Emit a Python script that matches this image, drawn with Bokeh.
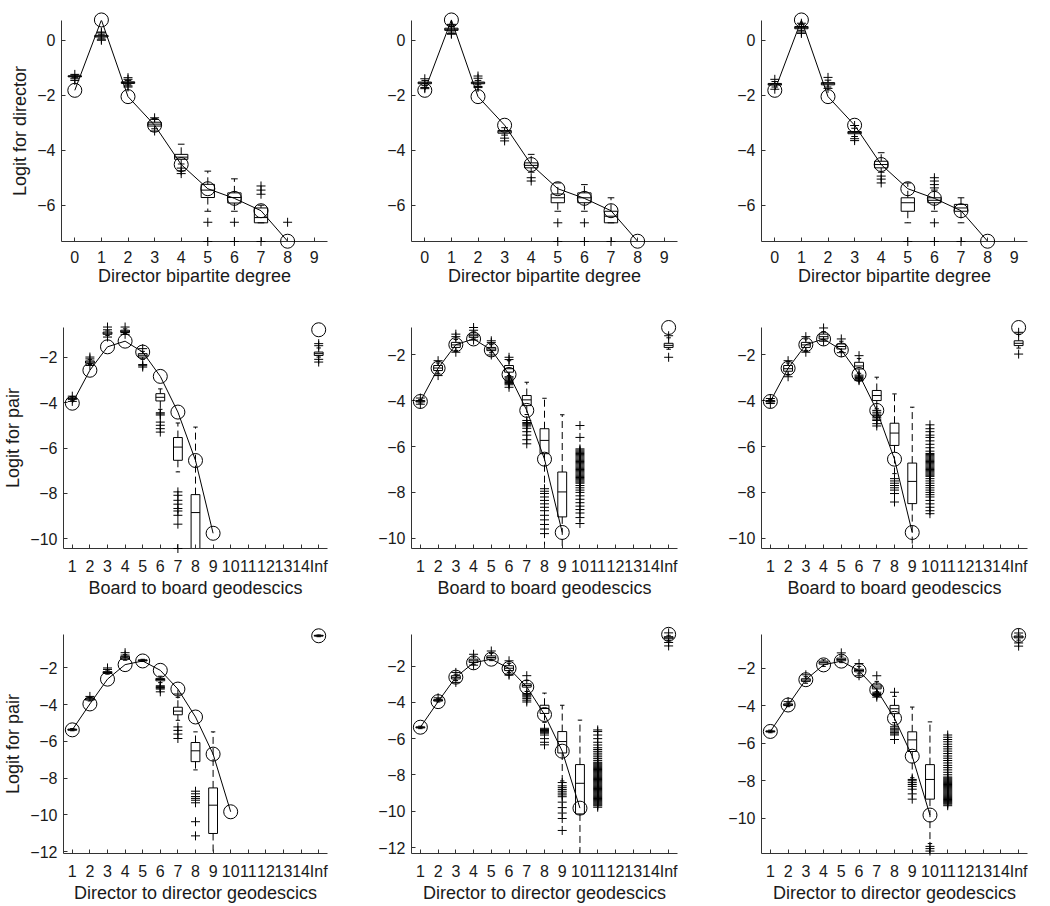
from bokeh.plotting import figure
from bokeh.layouts import row, column
from bokeh.models import FixedTicker, Range1d
from bokeh.embed import file_html
from bokeh.resources import INLINE

FONT = "Liberation Sans"

# ---------------- tick labels ----------------
deg_ticks = [0, 1, 2, 3, 4, 5, 6, 7, 8, 9]
deg_labels = ["0", "1", "2", "3", "4", "5", "6", "7", "8", "9"]
geo_ticks = [1, 2, 3, 4, 5, 6, 7, 8, 9, 10, 11, 12, 13, 14, 15]
geo_labels = ["1", "2", "3", "4", "5", "6", "7", "8", "9", "10", "11", "12", "13", "14", "Inf"]

# ---------------- observed values (circles) ----------------
deg_x = [0, 1, 2, 3, 4, 5, 6, 7, 8]
deg_y = [-1.82, 0.74, -2.05, -3.09, -4.52, -5.40, -5.75, -6.20, -7.31]
board_x = [1, 2, 3, 4, 5, 6, 7, 8, 9]
board_y = [-4.03, -2.58, -1.55, -1.30, -1.78, -2.85, -4.42, -6.55, -9.75]
board_inf = -0.80
dir_x = [1, 2, 3, 4, 5, 6, 7, 8, 9, 10]
dir_y = [-5.37, -3.96, -2.61, -1.82, -1.62, -2.13, -3.15, -4.67, -6.69, -9.83]
dir_inf = -0.25
inf_pos = 15

# ---------------- row 1, col 1 ----------------
r1c1_pos = [0, 1, 2, 3, 4, 5, 6, 7]
r1c1_q1 = [-1.33, 0.12, -1.57, -3.12, -4.33, -5.72, -5.92, -6.64]
r1c1_med = [-1.31, 0.15, -1.54, -3.05, -4.25, -5.45, -5.72, -6.45]
r1c1_q3 = [-1.29, 0.18, -1.51, -2.98, -4.15, -5.24, -5.55, -6.10]
r1c1_lo = [-1.36, 0.08, -1.62, -3.22, -4.50, -6.22, -6.22, -6.64]
r1c1_hi = [-1.26, 0.22, -1.46, -2.88, -3.78, -4.76, -5.04, -6.00]
r1c1_out = {0: [-1.24, -1.40, -1.46], 1: [0.30, 0.27, 0.04, 0.00],
            2: [-1.36, -1.42, -1.66, -1.70], 3: [-2.82, -3.30],
            4: [-4.65, -4.75, -4.85], 5: [-6.62, -7.32], 6: [-6.62, -7.32],
            7: [-5.30, -5.45, -5.60, -7.32], 8: [-6.62]}

# ---------------- row 1, col 2 ----------------
r1c2_pos = [0, 1, 2, 3, 4, 5, 6, 7]
r1c2_q1 = [-1.58, 0.36, -1.58, -3.38, -4.64, -5.91, -5.91, -6.64]
r1c2_med = [-1.55, 0.40, -1.55, -3.33, -4.55, -5.73, -5.73, -6.40]
r1c2_q3 = [-1.52, 0.44, -1.52, -3.28, -4.46, -5.59, -5.55, -6.22]
r1c2_lo = [-1.65, 0.30, -1.62, -3.45, -4.80, -6.22, -6.22, -6.64]
r1c2_hi = [-1.46, 0.50, -1.46, -3.18, -4.15, -5.19, -5.25, -5.73]
r1c2_out = {0: [-1.40, -1.72, -1.76], 1: [0.58, 0.55, 0.25, 0.22],
            2: [-1.30, -1.38, -1.68, -1.72], 3: [-3.56, -3.66],
            4: [-5.00, -5.12], 5: [-6.64, -7.32], 6: [-6.64, -7.32], 7: [-7.32]}

# ---------------- row 1, col 3 ----------------
r1c3_pos = [0, 1, 2, 3, 4, 5, 6, 7]
r1c3_q1 = [-1.63, 0.42, -1.62, -3.40, -4.64, -6.22, -5.91, -6.22]
r1c3_med = [-1.60, 0.46, -1.58, -3.36, -4.52, -5.91, -5.82, -6.10]
r1c3_q3 = [-1.57, 0.50, -1.54, -3.32, -4.40, -5.73, -5.73, -5.97]
r1c3_lo = [-1.70, 0.35, -1.70, -3.50, -4.80, -6.64, -6.22, -6.64]
r1c3_hi = [-1.50, 0.58, -1.45, -3.20, -4.09, -5.19, -5.45, -5.73]
r1c3_out = {0: [-1.42, -1.78], 1: [0.25, 0.30, 0.62], 2: [-1.35, -1.75],
            3: [-3.10, -3.58, -3.65], 4: [-4.94, -5.05, -5.19], 5: [-7.32],
            6: [-5.00, -5.12, -5.25, -5.37, -6.64, -7.32], 7: [-7.32]}

# ---------------- row 2, col 1 ----------------
r2c1_pos = [1, 2, 3, 4, 5, 6, 7, 8, 15]
r2c1_q1 = [-3.86, -2.27, -1.00, -0.92, -2.00, -3.93, -6.54, -10.60, -1.93]
r2c1_med = [-3.83, -2.22, -0.95, -0.87, -1.92, -3.77, -5.96, -8.84, -1.85]
r2c1_q3 = [-3.80, -2.17, -0.90, -0.82, -1.85, -3.61, -5.54, -8.05, -1.78]
r2c1_lo = [-3.90, -2.33, -1.05, -0.97, -2.10, -4.30, -7.05, -10.60, -2.00]
r2c1_hi = [-3.76, -2.10, -0.85, -0.76, -1.75, -3.40, -4.90, -5.08, -1.60]
r2c1_out = {1: [-3.72, -3.95], 2: [-2.00, -2.08, -2.37], 3: [-0.68, -0.80, -1.12],
            4: [-0.68, -1.00], 5: [-1.63, -2.33, -2.38, -2.44],
            6: [-4.45, -4.50, -4.55, -4.86, -5.00, -5.15, -5.30],
            7: [-7.93, -8.08, -8.30, -8.47, -8.66, -8.77, -8.96, -9.35, -10.42],
            15: [-1.41, -1.50, -2.10, -2.22]}

# ---------------- row 2, col 2 ----------------
r2c2_pos = [1, 2, 3, 4, 5, 6, 7, 8, 9, 15]
r2c2_q1 = [-4.05, -2.68, -1.67, -1.23, -1.81, -2.75, -4.21, -6.31, -9.07, -1.67]
r2c2_med = [-4.02, -2.57, -1.56, -1.16, -1.74, -2.60, -3.96, -5.73, -7.98, -1.58]
r2c2_q3 = [-3.99, -2.46, -1.45, -1.09, -1.67, -2.46, -3.77, -5.22, -7.11, -1.49]
r2c2_lo = [-4.10, -2.80, -1.80, -1.30, -1.90, -2.90, -4.60, -10.60, -10.60, -1.75]
r2c2_hi = [-3.95, -2.35, -1.32, -1.00, -1.55, -2.25, -3.19, -3.89, -4.61, -1.25]
r2c2_out = {1: [-3.88, -4.15], 2: [-2.25, -2.90], 3: [-1.09, -1.20, -1.88],
            4: [-0.80, -0.92, -1.35], 5: [-1.38, -1.46, -2.00],
            6: [-2.10, -2.20, -2.95, -3.00, -3.05, -3.10, -3.15, -3.20, -3.25, -3.30, -3.41],
            7: [-4.86, -4.95, -5.00, -5.05, -5.10, -5.20, -5.35, -5.50, -5.70, -5.88],
            8: [-7.84, -7.95, -8.05, -8.20, -8.35, -8.50, -8.65, -8.80, -9.00, -9.20,
                -9.40, -9.60, -9.80],
            10: [-5.08, -5.60, -6.10, -6.15, -6.20, -6.25, -6.30, -6.35, -6.40, -6.45,
                 -6.50, -6.55, -6.60, -6.65, -6.70, -6.75, -6.80, -6.85, -6.90, -6.95,
                 -7.00, -7.05, -7.10, -7.15, -7.20, -7.25, -7.30, -7.35, -7.40, -7.45,
                 -7.50, -7.55, -7.60, -7.70, -7.80, -7.90, -8.00, -8.15, -8.30, -8.45,
                 -8.60, -8.75, -8.90, -9.10, -9.36],
            15: [-1.16, -2.10]}

# ---------------- row 2, col 3 ----------------
r2c3_pos = [1, 2, 3, 4, 5, 6, 7, 8, 9, 15]
r2c3_q1 = [-4.05, -2.71, -1.67, -1.30, -1.74, -2.61, -3.99, -5.95, -8.49, -1.59]
r2c3_med = [-4.02, -2.60, -1.56, -1.20, -1.63, -2.48, -3.77, -5.41, -7.52, -1.49]
r2c3_q3 = [-3.99, -2.46, -1.45, -1.09, -1.52, -2.32, -3.55, -4.98, -6.72, -1.38]
r2c3_lo = [-4.10, -2.85, -1.80, -1.35, -1.85, -2.80, -4.35, -7.18, -10.60, -1.70]
r2c3_hi = [-3.95, -2.35, -1.30, -0.98, -1.40, -2.15, -2.97, -3.70, -4.28, -1.10]
r2c3_out = {1: [-3.90, -4.12], 2: [-2.25, -2.95], 3: [-1.20, -1.88], 4: [-0.82, -1.40],
            5: [-1.30, -1.90], 6: [-2.03, -2.88, -2.93, -2.98, -3.03, -3.08, -3.12],
            7: [-4.42, -4.50, -4.58, -4.65, -4.72, -4.80, -4.86, -5.00, -5.10],
            8: [-7.40, -7.50, -7.60, -7.70, -7.80, -7.90, -8.05, -8.42],
            10: [-5.05, -5.22, -5.35, -5.50, -5.60, -5.75, -5.90, -6.05, -6.20, -6.30,
                 -6.35, -6.40, -6.45, -6.50, -6.55, -6.60, -6.65, -6.70, -6.75, -6.80,
                 -6.85, -6.90, -6.95, -7.00, -7.05, -7.10, -7.15, -7.20, -7.25, -7.30,
                 -7.40, -7.50, -7.60, -7.70, -7.80, -7.90, -8.00, -8.10, -8.20, -8.35,
                 -8.50, -8.65, -8.80, -8.93],
            15: [-1.01, -1.96]}

# ---------------- row 3, col 1 ----------------
r3c1_pos = [1, 2, 3, 4, 5, 6, 7, 8, 9, 15]
r3c1_q1 = [-5.39, -3.75, -2.30, -1.53, -1.62, -2.70, -4.55, -7.10, -11.01, -0.27]
r3c1_med = [-5.36, -3.70, -2.25, -1.45, -1.59, -2.63, -4.35, -6.51, -9.47, -0.24]
r3c1_q3 = [-5.33, -3.65, -2.20, -1.37, -1.56, -2.57, -4.14, -6.06, -8.53, -0.21]
r3c1_lo = [-5.42, -3.80, -2.34, -1.58, -1.65, -2.80, -4.85, -7.55, -12.30, -0.30]
r3c1_hi = [-5.30, -3.60, -2.12, -1.28, -1.53, -2.45, -3.60, -5.48, -5.48, -0.18]
r3c1_out = {2: [-3.55], 3: [-2.00, -2.08], 4: [-1.17, -1.30],
            6: [-2.97, -3.02, -3.06, -3.10, -3.15, -3.30],
            7: [-3.42, -5.21, -5.40, -5.60, -5.84],
            8: [-8.71, -8.85, -9.00, -9.10, -9.20, -9.34, -10.37, -11.14]}

# ---------------- row 3, col 2 ----------------
r3c2_pos = [1, 2, 3, 4, 5, 6, 7, 8, 9, 10, 15]
r3c2_q1 = [-5.41, -3.93, -2.71, -1.80, -1.62, -2.25, -3.16, -4.61, -6.79, -10.15, -0.50]
r3c2_med = [-5.38, -3.89, -2.62, -1.71, -1.53, -2.12, -3.07, -4.34, -6.16, -8.46, -0.44]
r3c2_q3 = [-5.35, -3.85, -2.53, -1.62, -1.44, -1.98, -2.98, -4.16, -5.61, -7.43, -0.38]
r3c2_lo = [-5.45, -3.98, -2.80, -1.90, -1.70, -2.35, -3.40, -5.10, -8.33, -12.50, -0.60]
r3c2_hi = [-5.31, -3.80, -2.45, -1.50, -1.30, -1.85, -2.80, -3.49, -4.16, -4.98, -0.30]
r3c2_out = {2: [-3.75], 3: [-2.35, -2.90], 4: [-1.35, -1.95], 5: [-1.17],
            6: [-1.71, -2.44, -2.50],
            7: [-2.53, -3.52, -3.58, -3.64, -3.70, -3.78, -3.88, -3.98],
            8: [-5.43, -5.50, -5.55, -5.60, -5.65, -5.70, -5.80, -6.00, -6.20, -6.34],
            9: [-8.42, -8.60, -8.70, -8.80, -8.90, -9.00, -9.10, -9.20, -9.50, -9.80,
                -10.10, -10.40, -11.06],
            11: [-5.52, -5.61, -5.80, -6.00, -6.20, -6.35, -6.50, -6.60, -6.70, -6.80,
                 -6.90, -7.00, -7.10, -7.20, -7.30, -7.35, -7.40, -7.45, -7.50, -7.55,
                 -7.60, -7.65, -7.70, -7.75, -7.80, -7.85, -7.90, -7.95, -8.00, -8.05,
                 -8.10, -8.15, -8.20, -8.25, -8.30, -8.35, -8.40, -8.45, -8.50, -8.55,
                 -8.60, -8.65, -8.70, -8.75, -8.80, -8.85, -8.90, -8.95, -9.00, -9.05,
                 -9.10, -9.15, -9.20, -9.25, -9.30, -9.35, -9.40, -9.45, -9.50, -9.55,
                 -9.60, -9.65, -9.70, -9.78],
            15: [-0.17, -0.70, -0.89]}

# ---------------- row 3, col 3 ----------------
r3c3_pos = [1, 2, 3, 4, 5, 6, 7, 8, 9, 10, 15]
r3c3_q1 = [-5.40, -3.99, -2.70, -1.78, -1.60, -2.19, -3.10, -4.42, -6.44, -8.98, -0.38]
r3c3_med = [-5.37, -3.95, -2.63, -1.70, -1.53, -2.12, -3.00, -4.16, -5.82, -7.93, -0.33]
r3c3_q3 = [-5.34, -3.90, -2.56, -1.62, -1.46, -2.05, -2.89, -3.98, -5.39, -7.14, -0.28]
r3c3_lo = [-5.44, -4.05, -2.80, -1.90, -1.70, -2.30, -3.25, -4.90, -7.84, -11.35, -0.50]
r3c3_hi = [-5.30, -3.85, -2.45, -1.55, -1.35, -1.90, -2.70, -3.50, -4.07, -4.86, -0.20]
r3c3_out = {2: [-3.78], 3: [-2.35], 5: [-1.18], 6: [-1.75, -2.40],
            7: [-2.40, -3.28, -3.35, -3.40, -3.45, -3.54],
            8: [-3.28, -5.12, -5.20, -5.28, -5.35, -5.42, -5.50, -5.56, -5.80],
            9: [-7.93, -8.00, -8.10, -8.20, -8.30, -8.45, -8.70, -8.98],
            10: [-11.50, -11.62, -11.75],
            11: [-5.56, -5.68, -5.80, -5.92, -6.05, -6.18, -6.30, -6.42, -6.55, -6.68,
                 -6.80, -6.92, -7.05, -7.18, -7.30, -7.42, -7.55, -7.68, -7.80, -7.85,
                 -7.90, -7.95, -8.00, -8.05, -8.10, -8.15, -8.20, -8.25, -8.30, -8.35,
                 -8.40, -8.45, -8.50, -8.55, -8.60, -8.65, -8.70, -8.75, -8.80, -8.85,
                 -8.90, -8.95, -9.00, -9.05, -9.10, -9.15, -9.20, -9.25, -9.33],
            15: [-0.12, -0.65, -0.82]}

# ---------------- axis limits ----------------
row1_ylim = (-7.32, 0.72)
r2c1_ylim = (-10.42, -0.70)
r2c23_ylim = (-10.45, -0.80)
r3c1_ylim = (-12.10, -0.18)
r3c2_ylim = (-12.33, -0.26)
r3c3_ylim = (-11.88, -0.20)
row1_yticks = [-6, -4, -2, 0]
row2_yticks = [-10, -8, -6, -4, -2]
row3_yticks = [-12, -10, -8, -6, -4, -2]

BOXW = 0.5
CAPW = 0.25
INK = "#000000"
AXC = "#333333"
TXT = "#1a1a1a"


def make_panel(pos, q1, med, q3, lo, hi, out, ox, oy, oinf, xr, yr, xticks, xlabels,
               yticks, xlabel, ylabel, width, left, right, height, top, bottom):
    p = figure(width=width, height=height, x_range=Range1d(*xr), y_range=Range1d(*yr),
               output_backend="svg", toolbar_location=None,
               min_border_left=left, min_border_right=right,
               min_border_top=top, min_border_bottom=bottom)
    p.outline_line_color = None
    p.background_fill_color = "white"
    p.border_fill_color = "white"
    p.xgrid.visible = False
    p.ygrid.visible = False

    # boxes
    bl = [x - BOXW / 2 for x in pos]
    br = [x + BOXW / 2 for x in pos]
    p.quad(left=bl, right=br, bottom=q1, top=q3, fill_alpha=0,
           line_color=INK, line_width=1)
    p.segment(x0=bl, y0=med, x1=br, y1=med, line_color=INK, line_width=1)
    p.segment(x0=pos, y0=q3, x1=pos, y1=hi, line_color=INK, line_width=1,
              line_dash="7 4")
    p.segment(x0=pos, y0=q1, x1=pos, y1=lo, line_color=INK, line_width=1,
              line_dash="7 4")
    cl = [x - CAPW / 2 for x in pos]
    cr = [x + CAPW / 2 for x in pos]
    p.segment(x0=cl, y0=hi, x1=cr, y1=hi, line_color=INK, line_width=1)
    p.segment(x0=cl, y0=lo, x1=cr, y1=lo, line_color=INK, line_width=1)

    # outliers
    out_x, out_y = [], []
    for k, vals in out.items():
        for v in vals:
            out_x.append(k)
            out_y.append(v)
    r = p.scatter(out_x, out_y, marker="cross", size=9, line_color=INK, line_width=1)
    r.level = "overlay"

    # observed
    p.line(ox, oy, line_color="black", line_width=1)
    cx = list(ox)
    cy = list(oy)
    if oinf is not None:
        cx.append(inf_pos)
        cy.append(oinf)
    c = p.scatter(cx, cy, marker="circle", size=14, fill_alpha=0,
                  line_color="black", line_width=1)
    c.level = "overlay"

    # axes
    p.xaxis.ticker = FixedTicker(ticks=xticks)
    p.xaxis.major_label_overrides = {t: l for t, l in zip(xticks, xlabels)}
    p.yaxis.ticker = FixedTicker(ticks=yticks)
    p.yaxis.major_label_overrides = {t: ("\u2212" + str(-t) if t < 0 else str(t))
                                     for t in yticks}
    for ax in (p.xaxis[0], p.yaxis[0]):
        ax.axis_line_color = AXC
        ax.axis_line_width = 1
        ax.major_tick_line_color = AXC
        ax.major_tick_in = 4
        ax.major_tick_out = 0
        ax.minor_tick_line_color = None
        ax.major_label_text_font = FONT
        ax.major_label_text_font_size = "16px"
        ax.major_label_text_color = TXT
        ax.axis_label_text_font = FONT
        ax.axis_label_text_font_size = "18px"
        ax.axis_label_text_font_style = "normal"
        ax.axis_label_text_color = TXT
    p.xaxis.major_label_standoff = 9
    p.xaxis.axis_label_standoff = 0
    p.xaxis.axis_label = xlabel
    p.yaxis.major_label_standoff = 6
    p.yaxis.axis_label_standoff = 4
    if ylabel:
        p.yaxis.axis_label = ylabel
    return p


# column widths / borders
W1, L1, R1 = 357, 61, 30
W2, L2, R2 = 350, 54, 30
W3, L3, R3 = 334, 54, 14
# row heights / borders
H1, T1, B1 = 315, 20, 74
H2, T2, B2 = 307, 12, 74
H3, T3, B3 = 283, 12, 50

xl1 = "Director bipartite degree"
xl2 = "Board to board geodescics"
xl3 = "Director to director geodescics"
degx = (-0.5, 9.5)
geox = (0.5, 15.5)

p11 = make_panel(r1c1_pos, r1c1_q1, r1c1_med, r1c1_q3, r1c1_lo, r1c1_hi, r1c1_out,
                 deg_x, deg_y, None, degx, row1_ylim, deg_ticks, deg_labels,
                 row1_yticks, xl1, "Logit for director", W1, L1, R1, H1, T1, B1)
p12 = make_panel(r1c2_pos, r1c2_q1, r1c2_med, r1c2_q3, r1c2_lo, r1c2_hi, r1c2_out,
                 deg_x, deg_y, None, degx, row1_ylim, deg_ticks, deg_labels,
                 row1_yticks, xl1, None, W2, L2, R2, H1, T1, B1)
p13 = make_panel(r1c3_pos, r1c3_q1, r1c3_med, r1c3_q3, r1c3_lo, r1c3_hi, r1c3_out,
                 deg_x, deg_y, None, degx, row1_ylim, deg_ticks, deg_labels,
                 row1_yticks, xl1, None, W3, L3, R3, H1, T1, B1)

p21 = make_panel(r2c1_pos, r2c1_q1, r2c1_med, r2c1_q3, r2c1_lo, r2c1_hi, r2c1_out,
                 board_x, board_y, board_inf, geox, r2c1_ylim, geo_ticks, geo_labels,
                 row2_yticks, xl2, "Logit for pair", W1, L1, R1, H2, T2, B2)
p22 = make_panel(r2c2_pos, r2c2_q1, r2c2_med, r2c2_q3, r2c2_lo, r2c2_hi, r2c2_out,
                 board_x, board_y, board_inf, geox, r2c23_ylim, geo_ticks, geo_labels,
                 row2_yticks, xl2, None, W2, L2, R2, H2, T2, B2)
p23 = make_panel(r2c3_pos, r2c3_q1, r2c3_med, r2c3_q3, r2c3_lo, r2c3_hi, r2c3_out,
                 board_x, board_y, board_inf, geox, r2c23_ylim, geo_ticks, geo_labels,
                 row2_yticks, xl2, None, W3, L3, R3, H2, T2, B2)

p31 = make_panel(r3c1_pos, r3c1_q1, r3c1_med, r3c1_q3, r3c1_lo, r3c1_hi, r3c1_out,
                 dir_x, dir_y, dir_inf, geox, r3c1_ylim, geo_ticks, geo_labels,
                 row3_yticks, xl3, "Logit for pair", W1, L1, R1, H3, T3, B3)
p32 = make_panel(r3c2_pos, r3c2_q1, r3c2_med, r3c2_q3, r3c2_lo, r3c2_hi, r3c2_out,
                 dir_x, dir_y, dir_inf, geox, r3c2_ylim, geo_ticks, geo_labels,
                 row3_yticks, xl3, None, W2, L2, R2, H3, T3, B3)
p33 = make_panel(r3c3_pos, r3c3_q1, r3c3_med, r3c3_q3, r3c3_lo, r3c3_hi, r3c3_out,
                 dir_x, dir_y, dir_inf, geox, r3c3_ylim, geo_ticks, geo_labels,
                 row3_yticks, xl3, None, W3, L3, R3, H3, T3, B3)

layout = column(row(p11, p12, p13), row(p21, p22, p23), row(p31, p32, p33))

open("out.html", "w").write(file_html(layout, INLINE))
